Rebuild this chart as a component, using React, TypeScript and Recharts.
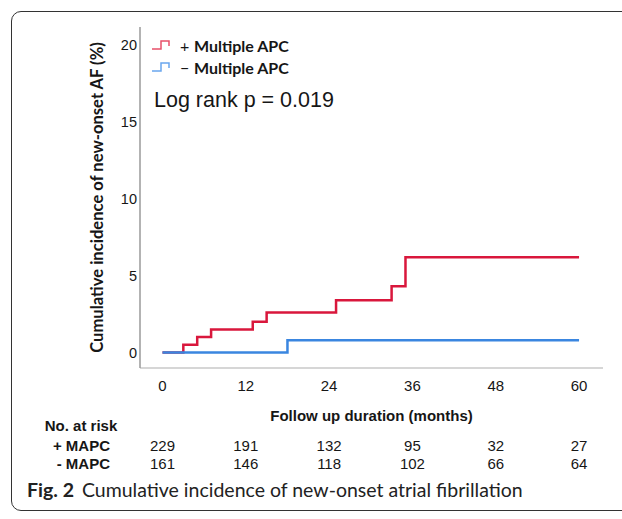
import React from 'react';
import { LineChart, Line, XAxis, YAxis, Legend, Label } from 'recharts';

const plusTimes = [0, 3, 5, 7, 13, 15, 25, 33, 35, 60];
const plusIncidence = [0, 0.5, 1.0, 1.5, 2.0, 2.6, 3.4, 4.3, 6.2, 6.2];
const minusTimes = [0, 18, 60];
const minusIncidence = [0, 0.8, 0.8];
const xTicks = [0, 12, 24, 36, 48, 60];
const yTicks = [0, 5, 10, 15, 20];
const riskPlus = [229, 191, 132, 95, 32, 27];
const riskMinus = [161, 146, 118, 102, 66, 64];
const seriesSigns = ['+', '−'];
const seriesNames = ['Multiple APC', 'Multiple APC'];
const seriesColors = ['#d9173c', '#3a86e0'];
const iconColors = ['#e8506a', '#6aa6ee'];
const riskLabels = ['+ MAPC', '- MAPC'];
const riskTitle = 'No. at risk';
const xTitle = 'Follow up duration (months)';
const yTitle = 'Cumulative incidence of new-onset AF (%)';
const pText = 'Log rank p = 0.019';
const captionBold = 'Fig. 2';
const captionText = 'Cumulative incidence of new-onset atrial fibrillation';

const plusData = plusTimes.map((t, i) => ({ t, y: plusIncidence[i] }));
const minusData = minusTimes.map((t, i) => ({ t, y: minusIncidence[i] }));

const ARIAL = '"Liberation Sans", Arial, sans-serif';
const TXT = '#161616';

const XTick = (props: any) => {
  const { x, y, payload } = props;
  const i = xTicks.indexOf(payload.value);
  const st = { fontFamily: ARIAL, fontSize: 15, fill: TXT };
  return (
    <g>
      <text x={x} y={y + 17} textAnchor="middle" dominantBaseline="central" style={st}>{payload.value}</text>
      <text x={x} y={y + 77} textAnchor="middle" dominantBaseline="central" style={st}>{riskPlus[i]}</text>
      <text x={x} y={y + 95} textAnchor="middle" dominantBaseline="central" style={st}>{riskMinus[i]}</text>
    </g>
  );
};

const YLabel = (props: any) => {
  const vb = props.viewBox || { x: 100, y: 27, width: 40, height: 341 };
  const cx = vb.x - 3;
  const cy = vb.y + vb.height / 2;
  return (
    <text x={cx} y={cy} transform={`rotate(-90 ${cx} ${cy})`} textAnchor="middle" dominantBaseline="central"
      style={{ fontFamily: 'Lato', fontWeight: 700, fontSize: 16.6, fill: TXT }}>{yTitle}</text>
  );
};

const XLabel = (props: any) => {
  const vb = props.viewBox || { x: 140, y: 368, width: 463, height: 30 };
  const cx = vb.x + vb.width / 2;
  const cy = vb.y + 47;
  return (
    <text x={cx} y={cy} textAnchor="middle" dominantBaseline="central"
      style={{ fontFamily: ARIAL, fontWeight: 700, fontSize: 15, fill: TXT }}>{xTitle}</text>
  );
};

const LegendContent = () => (
  <div style={{ fontFamily: 'Lato', fontSize: 16, color: TXT }}>
    {seriesNames.map((n, i) => (
      <div key={i} style={{ height: 22, display: 'flex', alignItems: 'center', whiteSpace: 'nowrap' }}>
        <svg width={20} height={12} style={{ marginRight: 9 }}>
          <path d="M1,10 H10 V2 H18 V7" fill="none" stroke={iconColors[i]} strokeWidth={1.5} />
        </svg>
        <span style={{ width: 14 }}>{seriesSigns[i]}</span>
        <span style={{ fontWeight: 700 }}>{n}</span>
      </div>
    ))}
  </div>
);

export default function App() {
  return (
    <div style={{ position: 'absolute', left: 0, top: 0, width: 622, height: 519, overflow: 'hidden', background: '#fff' }}>
      <div style={{ position: 'absolute', left: 11, top: 11, width: 660, height: 498, border: '1.5px solid #333', borderRadius: 10 }} />
      <div style={{ position: 'absolute', left: 0, top: 0 }}>
        <LineChart width={622} height={519} margin={{ top: 27, right: 19, left: 100, bottom: 121 }}>
          <XAxis dataKey="t" type="number" domain={[-3.24, 63.45]} allowDataOverflow ticks={xTicks}
            interval={0} tickLine={false} tickSize={0} tickMargin={0} height={30}
            axisLine={{ stroke: '#c8c8c8', strokeWidth: 1.5 }} tick={<XTick />}>
            <Label content={<XLabel />} />
          </XAxis>
          <YAxis type="number" domain={[-1.01, 21.17]} allowDataOverflow ticks={yTicks} interval={0}
            tickLine={false} tickSize={0} tickMargin={3} width={40}
            axisLine={{ stroke: '#9a9a9a', strokeWidth: 1.5 }}
            tick={{ fontFamily: ARIAL, fontSize: 14.5, fill: TXT }}>
            <Label content={<YLabel />} />
          </YAxis>
          <Legend layout="vertical" align="center" verticalAlign="middle" content={<LegendContent />}
            wrapperStyle={{ top: 34, left: 151, width: 'auto' }} />
          <Line data={plusData} dataKey="y" name="+ Multiple APC" type="stepAfter" stroke={seriesColors[0]}
            strokeWidth={2.5} dot={false} activeDot={false} isAnimationActive={false} />
          <Line data={minusData} dataKey="y" name="− Multiple APC" type="stepAfter" stroke={seriesColors[1]}
            strokeWidth={2.5} dot={false} activeDot={false} isAnimationActive={false} />
        </LineChart>
      </div>
      <svg width={622} height={519} style={{ position: 'absolute', left: 0, top: 0, pointerEvents: 'none' }}>
        <text x={154} y={100} dominantBaseline="central" style={{ fontFamily: ARIAL, fontSize: 21.5, fill: TXT }}>{pText}</text>
        <text x={81} y={425} textAnchor="middle" dominantBaseline="central" style={{ fontFamily: ARIAL, fontWeight: 700, fontSize: 15, fill: TXT }}>{riskTitle}</text>
        {riskLabels.map((l, i) => (
          <text key={i} x={110} y={445 + i * 18} textAnchor="end" dominantBaseline="central" style={{ fontFamily: ARIAL, fontWeight: 700, fontSize: 15, fill: TXT }}>{l}</text>
        ))}
        <text x={27} y={497} style={{ fontFamily: 'Lato', fontSize: 19.5, fill: '#222' }}>
          <tspan style={{ fontWeight: 700 }}>{captionBold}</tspan>
          <tspan dx={8}>{captionText}</tspan>
        </text>
      </svg>
    </div>
  );
}
